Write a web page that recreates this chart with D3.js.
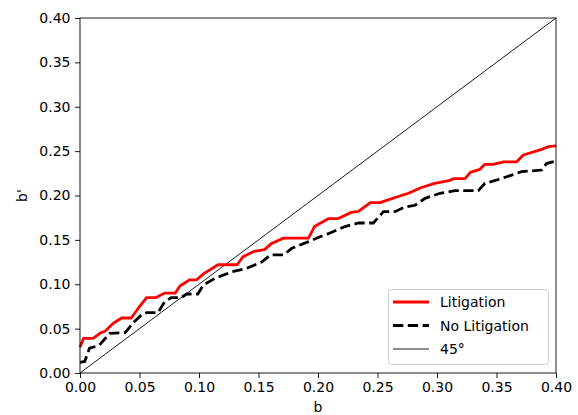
<!DOCTYPE html>
<html>
<head>
<meta charset="utf-8">
<script src="https://cdn.jsdelivr.net/npm/d3@7"></script>
<style>
  body { margin: 0; background: #fff; }
  svg text { font-family: "DejaVu Sans", sans-serif; }
</style>
</head>
<body>
<div id="chart"></div>
<script>
// Litigation curve (red)
const litB = [0, 0.003, 0.011, 0.017, 0.021, 0.028, 0.035, 0.043, 0.049, 0.056, 0.064, 0.071, 0.08, 0.084, 0.092, 0.098, 0.104, 0.116, 0.132, 0.137, 0.146, 0.155, 0.161, 0.171, 0.192, 0.197, 0.209, 0.217, 0.228, 0.234, 0.244, 0.252, 0.27, 0.276, 0.287, 0.298, 0.31, 0.314, 0.3235, 0.328, 0.336, 0.34, 0.347, 0.356, 0.367, 0.3725, 0.388, 0.3935, 0.4];
const litY = [0.029, 0.039, 0.039, 0.045, 0.047, 0.056, 0.062, 0.062, 0.073, 0.085, 0.085, 0.090, 0.090, 0.098, 0.105, 0.105, 0.112, 0.122, 0.122, 0.131, 0.137, 0.139, 0.146, 0.152, 0.152, 0.165, 0.174, 0.174, 0.181, 0.182, 0.192, 0.192, 0.2, 0.2025, 0.209, 0.2137, 0.2167, 0.219, 0.219, 0.226, 0.2295, 0.235, 0.235, 0.238, 0.238, 0.2456, 0.252, 0.255, 0.256];

// No litigation curve (black dashed)
const noLitB = [0, 0.004, 0.008, 0.016, 0.025, 0.038, 0.045, 0.0515, 0.056, 0.0655, 0.071, 0.0767, 0.085, 0.0896, 0.099, 0.1036, 0.1134, 0.1275, 0.140, 0.1527, 0.16, 0.171, 0.178, 0.192, 0.2017, 0.2087, 0.2227, 0.234, 0.2465, 0.255, 0.2647, 0.273, 0.2815, 0.29, 0.3025, 0.315, 0.3347, 0.3403, 0.3515, 0.3628, 0.371, 0.388, 0.392, 0.4];
const noLitY = [0.012, 0.013, 0.028, 0.031, 0.0447, 0.0455, 0.057, 0.0653, 0.068, 0.068, 0.080, 0.0849, 0.0849, 0.089, 0.089, 0.099, 0.1067, 0.114, 0.118, 0.125, 0.133, 0.133, 0.1405, 0.148, 0.1536, 0.157, 0.165, 0.169, 0.169, 0.1818, 0.1818, 0.187, 0.189, 0.1968, 0.2025, 0.2054, 0.2054, 0.2137, 0.218, 0.223, 0.2268, 0.2287, 0.236, 0.239];

const diagB = [0, 0.4];
const xTicks = [0, 0.05, 0.1, 0.15, 0.2, 0.25, 0.3, 0.35, 0.4];
const yTicks = [0, 0.05, 0.1, 0.15, 0.2, 0.25, 0.3, 0.35, 0.4];
const legendLabels = ['Litigation', 'No Litigation', '45°'];

const w = 578, h = 415;
const plotLeft = 80, plotRight = 556, plotTop = 18, plotBottom = 373;

const svg = d3.select('#chart').append('svg')
    .attr('width', w)
    .attr('height', h);

const xScale = d3.scaleLinear().domain([0, 0.4]).range([plotLeft, plotRight]);
const yScale = d3.scaleLinear().domain([0, 0.4]).range([plotBottom, plotTop]);

const line = d3.line()
    .x(d => xScale(d[0]))
    .y(d => yScale(d[1]));

const plot = svg.append('g');

// 45 degree line
plot.append('path')
    .datum(diagB.map(b => [b, b]))
    .attr('d', line)
    .attr('fill', 'none')
    .attr('stroke', '#000')
    .attr('stroke-width', 0.9);

plot.append('path')
    .datum(litB.map((b, i) => [b, litY[i]]))
    .attr('d', line)
    .attr('fill', 'none')
    .attr('stroke', '#ff0000')
    .attr('stroke-width', 2.8)
    .attr('stroke-linejoin', 'round');

plot.append('path')
    .datum(noLitB.map((b, i) => [b, noLitY[i]]))
    .attr('d', line)
    .attr('fill', 'none')
    .attr('stroke', '#000')
    .attr('stroke-width', 2.8)
    .attr('stroke-dasharray', '10.3,4.5');

// axes
const xAxis = d3.axisBottom(xScale).tickValues(xTicks).tickFormat(d3.format('.2f')).tickSize(5).tickPadding(4);
const yAxis = d3.axisLeft(yScale).tickValues(yTicks).tickFormat(d3.format('.2f')).tickSize(5).tickPadding(4.5);

const gx = svg.append('g')
    .attr('transform', 'translate(0,' + plotBottom + ')')
    .call(xAxis);
const gy = svg.append('g')
    .attr('transform', 'translate(' + plotLeft + ',0)')
    .call(yAxis);

[gx, gy].forEach(g => {
    g.select('.domain').remove();
    g.selectAll('.tick line').attr('stroke', '#000').attr('stroke-width', 0.9);
    g.selectAll('.tick text').attr('fill', '#000').style('font-size', '14px');
});

// frame
svg.append('rect')
    .attr('x', plotLeft)
    .attr('y', plotTop)
    .attr('width', plotRight - plotLeft)
    .attr('height', plotBottom - plotTop)
    .attr('fill', 'none')
    .attr('stroke', '#000')
    .attr('stroke-width', 0.9);

// axis labels
svg.append('text')
    .attr('x', (plotLeft + plotRight) / 2)
    .attr('y', 412)
    .attr('text-anchor', 'middle')
    .style('font-size', '14px')
    .text('b');

svg.append('text')
    .attr('transform', 'translate(27,' + ((plotTop + plotBottom) / 2) + ') rotate(-90)')
    .attr('text-anchor', 'middle')
    .style('font-size', '14px')
    .text("b'");

// legend
const legend = svg.append('g');
legend.append('rect')
    .attr('x', 388.5)
    .attr('y', 289.5)
    .attr('width', 160)
    .attr('height', 75)
    .attr('rx', 3)
    .attr('fill', '#fff')
    .attr('fill-opacity', 0.8)
    .attr('stroke', '#ccc')
    .attr('stroke-width', 1);

const legStyles = [
    { stroke: '#ff0000', width: 2.8, dash: null },
    { stroke: '#000', width: 2.8, dash: '10.3,4.5' },
    { stroke: '#000', width: 0.9, dash: null }
];

legendLabels.forEach((label, i) => {
    const y = 302 + i * 23.5;
    legend.append('line')
        .attr('x1', 393)
        .attr('x2', 429)
        .attr('y1', y)
        .attr('y2', y)
        .attr('stroke', legStyles[i].stroke)
        .attr('stroke-width', legStyles[i].width)
        .attr('stroke-dasharray', legStyles[i].dash);
    legend.append('text')
        .attr('x', 440)
        .attr('y', y + 5)
        .style('font-size', '14px')
        .text(label);
});
</script>
</body>
</html>
